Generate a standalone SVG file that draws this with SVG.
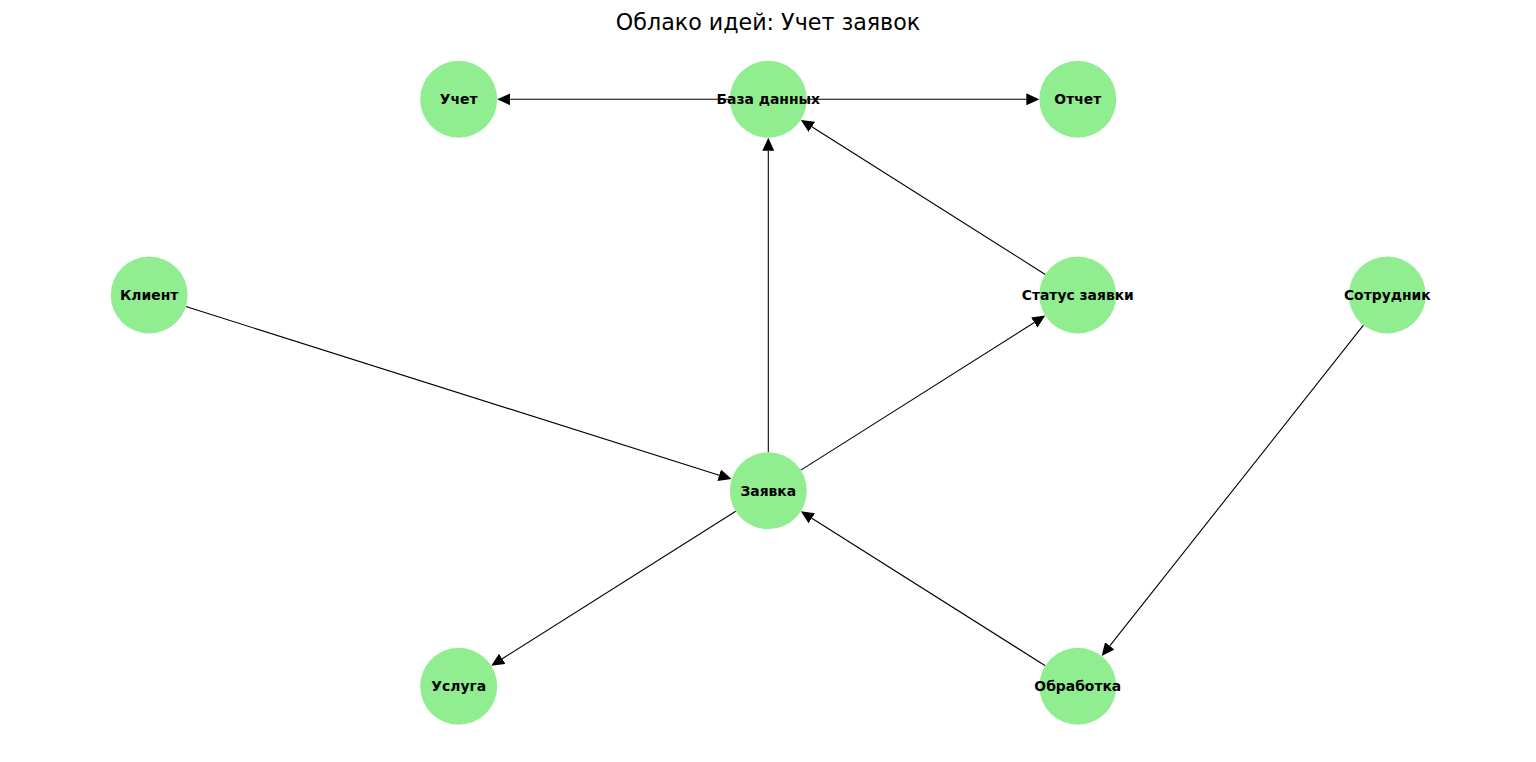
<svg xmlns="http://www.w3.org/2000/svg" width="1536" height="762" viewBox="0 0 1536 762">
<style>
.bg{fill:#ffffff}
.edge{stroke:#000000;stroke-width:1.1;fill:none;marker-end:url(#ah)}
.node circle{fill:#90ee90}
.node text{font-family:"DejaVu Sans","Liberation Sans",sans-serif;font-weight:bold;font-size:13.9px;fill:#000000;text-anchor:middle}
.title{font-family:"DejaVu Sans","Liberation Sans",sans-serif;font-size:22.2px;fill:#000000;text-anchor:middle}
</style>
<defs>
<marker id="ah" markerUnits="userSpaceOnUse" markerWidth="13" markerHeight="12" viewBox="0 0 13 12" refX="0" refY="6" orient="auto">
<path d="M0,0 L13,6 L0,12 z" fill="#000000"/>
</marker>
</defs>
<rect class="bg" x="0" y="0" width="1536" height="762"/>
<text class="title" x="768" y="29.5">Облако идей: Учет заявок</text>
<g id="edges">
<line class="edge" x1="729.8" y1="99.3" x2="510.2" y2="99.3"/>
<line class="edge" x1="806.8" y1="99.3" x2="1026.3" y2="99.3"/>
<line class="edge" x1="768.3" y1="452.2" x2="768.3" y2="150.8"/>
<line class="edge" x1="1045.26" y1="274.42" x2="811.83" y2="126.83"/>
<line class="edge" x1="185.91" y1="306.6" x2="719.19" y2="475.18"/>
<line class="edge" x1="800.84" y1="470.12" x2="1034.27" y2="322.53"/>
<line class="edge" x1="1363.42" y1="325.2" x2="1109.75" y2="645.9"/>
<line class="edge" x1="735.76" y1="511.28" x2="502.23" y2="658.77"/>
<line class="edge" x1="1045.26" y1="665.72" x2="811.83" y2="518.23"/>
</g>
<g id="node-uchet" class="node"><circle cx="458.7" cy="99.3" r="38.5"/><text x="458.7" y="104.3">Учет</text></g>
<g id="node-baza" class="node"><circle cx="768.3" cy="99.3" r="38.5"/><text x="768.3" y="104.3">База данных</text></g>
<g id="node-otchet" class="node"><circle cx="1077.8" cy="99.3" r="38.5"/><text x="1077.8" y="104.3">Отчет</text></g>
<g id="node-klient" class="node"><circle cx="149.2" cy="295" r="38.5"/><text x="149.2" y="300">Клиент</text></g>
<g id="node-status" class="node"><circle cx="1077.8" cy="295" r="38.5"/><text x="1077.8" y="300">Статус заявки</text></g>
<g id="node-sotrudnik" class="node"><circle cx="1387.3" cy="295" r="38.5"/><text x="1387.3" y="300">Сотрудник</text></g>
<g id="node-zayavka" class="node"><circle cx="768.3" cy="490.7" r="38.5"/><text x="768.3" y="495.7">Заявка</text></g>
<g id="node-usluga" class="node"><circle cx="458.7" cy="686.3" r="38.5"/><text x="458.7" y="691.3">Услуга</text></g>
<g id="node-obrabotka" class="node"><circle cx="1077.8" cy="686.3" r="38.5"/><text x="1077.8" y="691.3">Обработка</text></g>
</svg>
